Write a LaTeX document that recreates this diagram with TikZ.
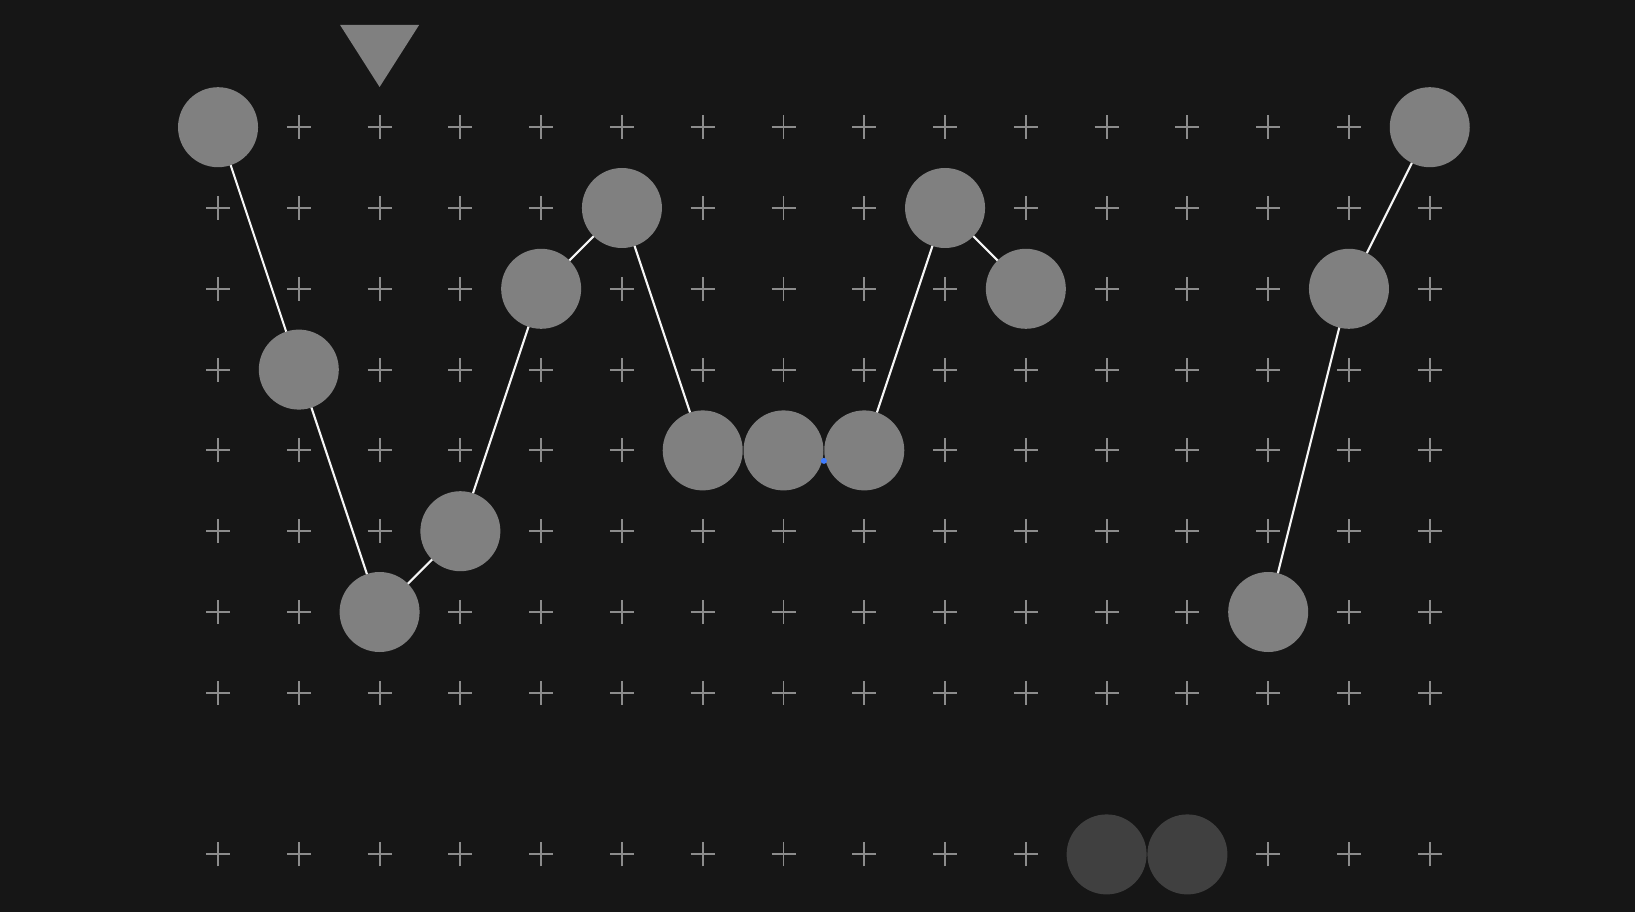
\documentclass[tikz,border=0pt]{standalone}
\usetikzlibrary{calc}
\begin{document}
\begin{tikzpicture}[x=0.8078cm,y=-0.808cm,
  crossmark/.style={draw=cgray,line width=0.55pt},
  ball/.style={circle,fill=bgray,minimum size=0.8cm,inner sep=0pt,outer sep=0pt},
  dimball/.style={circle,fill=dgray,minimum size=0.8cm,inner sep=0pt,outer sep=0pt},
  link/.style={draw=white!92!gray,line width=0.6pt}]
\definecolor{bg}{HTML}{161616}
\definecolor{cgray}{HTML}{8C8C8C}
\definecolor{bgray}{HTML}{808080}
\definecolor{dgray}{HTML}{404040}
\definecolor{bluedot}{HTML}{3F7CFF}
\fill[bg] (-2.699,-1.574) rectangle (17.541,9.713);
\useasboundingbox (-2.699,-1.574) rectangle (17.541,9.713);
% grid of crosses
\foreach \j in {0,...,7,9}{
  \foreach \k in {0,...,15}{
    \draw[crossmark] ($(\k,\j)+(-0.12cm,0)$) -- ++(0.24cm,0);
    \draw[crossmark] ($(\k,\j)+(0,-0.12cm)$) -- ++(0,0.24cm);
  }
}
% balls
\node[ball] (a) at (0,0) {};
\node[ball] (b) at (1,3) {};
\node[ball] (c) at (2,6) {};
\node[ball] (d) at (3,5) {};
\node[ball] (e) at (4,2) {};
\node[ball] (f) at (5,1) {};
\node[ball] (g) at (6,4) {};
\node[ball] (h) at (7,4) {};
\node[ball] (i) at (8,4) {};
\node[ball] (m) at (9,1) {};
\node[ball] (n) at (10,2) {};
\node[ball] (p) at (15,0) {};
\node[ball] (q) at (14,2) {};
\node[ball] (r) at (13,6) {};
\node[dimball] (s) at (11,9) {};
\node[dimball] (t) at (12,9) {};
% links
\draw[link] (a) -- (b);
\draw[link] (b) -- (c);
\draw[link] (c) -- (d);
\draw[link] (d) -- (e);
\draw[link] (e) -- (f);
\draw[link] (f) -- (g);
\draw[link] (i) -- (m);
\draw[link] (m) -- (n);
\draw[link] (p) -- (q);
\draw[link] (q) -- (r);
% marker triangle
\fill[bgray] (1.511,-1.265) -- (2.489,-1.265) -- (2,-0.4975) -- cycle;
% blue dot
\fill[bluedot] (7.5,4.13) circle (0.03cm);
\end{tikzpicture}
\end{document}
